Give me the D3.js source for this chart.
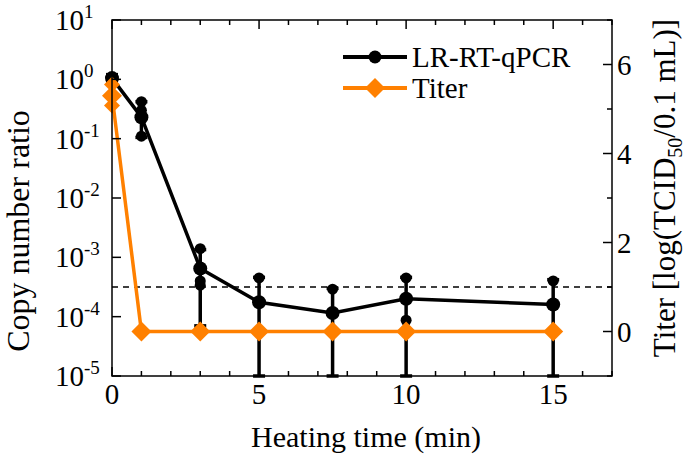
<!DOCTYPE html>
<html><head><meta charset="utf-8">
<script src="https://cdn.jsdelivr.net/npm/d3@7"></script>
</head><body style="margin:0">
<svg id="c" width="685" height="458"></svg>
<script>
// ---- data ----
const times = [0, 1, 3, 5, 7.5, 10, 15];
const qpcrMean = [1.05, 0.23, 6.5e-4, 1.75e-4, 1.15e-4, 2.0e-4, 1.6e-4];
const qpcrUpper = [1.2, 0.42, 1.35e-3, 4.6e-4, 3.0e-4, 4.6e-4, 4.2e-4];
const qpcrLower = [0.9, 0.105, 7e-5, 1e-6, 1e-6, 1e-6, 1e-6];
const repTimes = [1, 1, 1, 3, 3, 3, 5, 7.5, 10, 10, 15];
const repValues = [0.42, 0.30, 0.11, 1.4e-3, 4.0e-4, 3.4e-4, 4.5e-4, 2.9e-4, 4.5e-4, 8.7e-5, 4.0e-4];
const titerMean = [5.3, 0, 0, 0, 0, 0, 0];
const titerRepTimes = [0, 0, 0];
const titerRepValues = [5.55, 5.3, 5.08];
const detectionLimit = 1;
const xTicks = [0, 5, 10, 15];
const yLeftExps = [1, 0, -1, -2, -3, -4, -5];
const yRightTicks = [0, 2, 4, 6];
const seriesNames = ["LR-RT-qPCR", "Titer"];

const FONT = "Liberation Serif";
const black = "#000", orange = "#ff8000";
const L = 112, R = 612, T = 20, B = 376;
const svg = d3.select("#c");
const txt = (g) => g.append("text").style("font-family", FONT);
const x = d3.scaleLinear().domain([0, 17]).range([L, R]);
const y = d3.scaleLog().domain([1e-5, 10]).range([B, T]).clamp(true);
const y2 = d3.scaleLinear().domain([-1, 7]).range([B, T]);

const plot = svg.append("g");
plot.append("line").attr("x1", L).attr("x2", R).attr("y1", y2(detectionLimit)).attr("y2", y2(detectionLimit))
  .attr("stroke", black).attr("stroke-width", 1.5).attr("stroke-dasharray", "6,5");

times.forEach((t, i) => {
  const cx = x(t);
  plot.append("line").attr("x1", cx).attr("x2", cx).attr("y1", y(qpcrUpper[i])).attr("y2", y(qpcrLower[i]))
    .attr("stroke", black).attr("stroke-width", 3.5);
  [qpcrUpper[i], qpcrLower[i]].forEach(v => {
    plot.append("line").attr("x1", cx - 6).attr("x2", cx + 6).attr("y1", y(v)).attr("y2", y(v))
      .attr("stroke", black).attr("stroke-width", 3.5);
  });
});
repTimes.forEach((t, i) => {
  plot.append("circle").attr("cx", x(t)).attr("cy", y(repValues[i])).attr("r", 5.5).attr("fill", black);
});
plot.append("path").datum(times.map((t, i) => [t, qpcrMean[i]]))
  .attr("d", d3.line().x(d => x(d[0])).y(d => y(d[1])))
  .attr("fill", "none").attr("stroke", black).attr("stroke-width", 3.5);
times.forEach((t, i) => {
  plot.append("circle").attr("cx", x(t)).attr("cy", y(qpcrMean[i])).attr("r", 7).attr("fill", black);
});

const diamond = (g, cx, cy, s) => g.append("path")
  .attr("d", `M${cx},${cy - s}L${cx + s},${cy}L${cx},${cy + s}L${cx - s},${cy}Z`).attr("fill", orange);
plot.append("path").datum(times.map((t, i) => [t, titerMean[i]]))
  .attr("d", d3.line().x(d => x(d[0])).y(d => y2(d[1])))
  .attr("fill", "none").attr("stroke", orange).attr("stroke-width", 3.5);
titerRepTimes.forEach((t, i) => diamond(plot, x(t), y2(titerRepValues[i]), 8));
times.forEach((t, i) => diamond(plot, x(t), y2(titerMean[i]), 10));

svg.append("rect").attr("x", L).attr("y", T).attr("width", R - L).attr("height", B - T)
  .attr("fill", "none").attr("stroke", black).attr("stroke-width", 1.5);

d3.range(0, 18, 1).forEach(v => {
  const len = v % 5 === 0 ? 9 : 5;
  svg.append("line").attr("x1", x(v)).attr("x2", x(v)).attr("y1", B).attr("y2", B - len).attr("stroke", black).attr("stroke-width", 1.5);
  svg.append("line").attr("x1", x(v)).attr("x2", x(v)).attr("y1", T).attr("y2", T + len).attr("stroke", black).attr("stroke-width", 1.5);
});
xTicks.forEach(v => {
  txt(svg).attr("x", x(v)).attr("y", 404).attr("text-anchor", "middle").attr("font-size", 29).text(v);
});

yLeftExps.forEach(e => {
  const yy = y(Math.pow(10, e));
  svg.append("line").attr("x1", L).attr("x2", L + 9).attr("y1", yy).attr("y2", yy).attr("stroke", black).attr("stroke-width", 1.5);
  txt(svg).attr("x", 84).attr("y", yy + 10).attr("text-anchor", "end").attr("font-size", 29).text("10");
  txt(svg).attr("x", 84).attr("y", yy - 2).attr("font-size", 19).text(e < 0 ? "-" + (-e) : e);
});

d3.range(-1, 8, 1).forEach(v => {
  const len = v % 2 === 0 ? 9 : 5;
  svg.append("line").attr("x1", R).attr("x2", R - len).attr("y1", y2(v)).attr("y2", y2(v)).attr("stroke", black).attr("stroke-width", 1.5);
});
yRightTicks.forEach(v => {
  txt(svg).attr("x", 617).attr("y", y2(v) + 10).attr("font-size", 29).text(v);
});

txt(svg).attr("x", (L + R) / 2 + 4).attr("y", 447).attr("text-anchor", "middle").attr("font-size", 30).text("Heating time (min)");
txt(svg).attr("transform", "translate(29,231) rotate(-90)").attr("text-anchor", "middle").attr("font-size", 32).text("Copy number ratio");
const rt = txt(svg).attr("transform", "translate(675,188) rotate(-90)").attr("text-anchor", "middle").attr("font-size", 31);
rt.append("tspan").text("Titer [log(TCID");
rt.append("tspan").attr("font-size", 20).attr("dy", 7).text("50");
rt.append("tspan").attr("dy", -7).text("/0.1 mL)]");

const leg = svg.append("g");
[[57, black, "circle"], [88, orange, "diamond"]].forEach((d, i) => {
  leg.append("line").attr("x1", 343).attr("x2", 407).attr("y1", d[0]).attr("y2", d[0]).attr("stroke", d[1]).attr("stroke-width", 4);
  if (d[2] === "circle") leg.append("circle").attr("cx", 375).attr("cy", d[0]).attr("r", 6.5).attr("fill", d[1]);
  else diamond(leg, 375, d[0], 10);
  txt(leg).attr("x", 412).attr("y", d[0] + 10).attr("font-size", 29).text(seriesNames[i]);
});
</script>
</body></html>
